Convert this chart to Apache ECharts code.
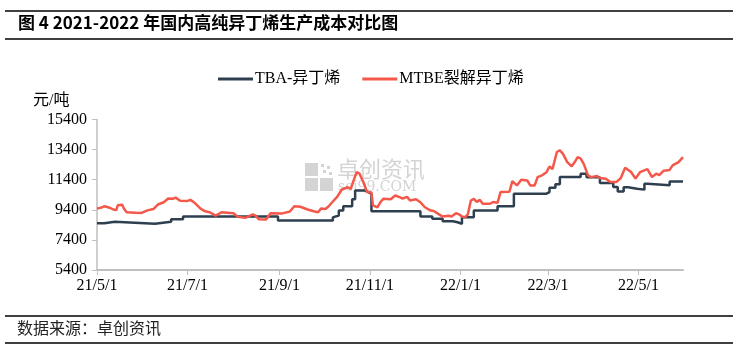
<!DOCTYPE html>
<html>
<head>
<meta charset="utf-8">
<script src="https://cdn.jsdelivr.net/npm/echarts@6/dist/echarts.min.js"></script>
<style>
  html, body { margin: 0; padding: 0; background: #fff; }
  #main { width: 739px; height: 355px; }
</style>
</head>
<body>
<div id="main"></div>
<script>
// 图例名称
const seriesNames = ['TBA-异丁烯', 'MTBE裂解异丁烯'];

// TBA-异丁烯：阶梯变动点（日期，元/吨）
const tbaDates = ['2021-05-01', '2021-05-06', '2021-05-13', '2021-06-09', '2021-06-20', '2021-06-28',
  '2021-08-31', '2021-10-07', '2021-10-08', '2021-10-11', '2021-10-14', '2021-10-20', '2021-10-22',
  '2021-10-28', '2021-10-31', '2021-11-02', '2021-12-05', '2021-12-13', '2021-12-20', '2021-12-27',
  '2021-12-30', '2022-01-02', '2022-01-10', '2022-01-26', '2022-02-06', '2022-02-28', '2022-03-02',
  '2022-03-06', '2022-03-09', '2022-03-23', '2022-03-27', '2022-04-05', '2022-04-14', '2022-04-17',
  '2022-04-21', '2022-04-24', '2022-04-30', '2022-05-05', '2022-05-07', '2022-05-22', '2022-05-31'];
const tbaValues = [8510, 8610, 8480, 8610, 8770, 8950,
  8690, 8900, 9020, 9360, 9630, 10100, 10690,
  10570, 10450, 9310, 8950, 8800, 8640, 8570,
  8470, 8900, 9350, 9640, 10470, 10575, 10870,
  11090, 11575, 11800, 11570, 11180, 10910, 10620,
  10900, 10800, 10740, 11130, 11030, 11280, 11280];

// MTBE裂解异丁烯
const mtbeDates = ['2021-05-01', '2021-05-04', '2021-05-06', '2021-05-10', '2021-05-12', '2021-05-14',
  '2021-05-15', '2021-05-18', '2021-05-19', '2021-05-21', '2021-05-27', '2021-05-31', '2021-06-01',
  '2021-06-04', '2021-06-08', '2021-06-11', '2021-06-15', '2021-06-18', '2021-06-21', '2021-06-23',
  '2021-06-26', '2021-07-01', '2021-07-03', '2021-07-06', '2021-07-10', '2021-07-13', '2021-07-16',
  '2021-07-20', '2021-07-24', '2021-07-28', '2021-08-01', '2021-08-04', '2021-08-09', '2021-08-14',
  '2021-08-16', '2021-08-18', '2021-08-23', '2021-08-26', '2021-09-03', '2021-09-08', '2021-09-11',
  '2021-09-15', '2021-09-20', '2021-09-24', '2021-09-27', '2021-09-29', '2021-10-02', '2021-10-04',
  '2021-10-07', '2021-10-10', '2021-10-13', '2021-10-17', '2021-10-19', '2021-10-21', '2021-10-23',
  '2021-10-25', '2021-10-28', '2021-10-30', '2021-10-31', '2021-11-02', '2021-11-03', '2021-11-06',
  '2021-11-08', '2021-11-10', '2021-11-15', '2021-11-18', '2021-11-21', '2021-11-23', '2021-11-26',
  '2021-11-28', '2021-12-02', '2021-12-05', '2021-12-08', '2021-12-12', '2021-12-14', '2021-12-17',
  '2021-12-20', '2021-12-24', '2021-12-26', '2021-12-29', '2021-12-31', '2022-01-02', '2022-01-04',
  '2022-01-06', '2022-01-08', '2022-01-10', '2022-01-12', '2022-01-14', '2022-01-16', '2022-01-21',
  '2022-01-23', '2022-01-26', '2022-01-28', '2022-02-03', '2022-02-05', '2022-02-08', '2022-02-11',
  '2022-02-15', '2022-02-17', '2022-02-20', '2022-02-22', '2022-02-25', '2022-02-28', '2022-03-02',
  '2022-03-04', '2022-03-07', '2022-03-09', '2022-03-11', '2022-03-14', '2022-03-17', '2022-03-19',
  '2022-03-21', '2022-03-23', '2022-03-25', '2022-03-28', '2022-03-30', '2022-04-03', '2022-04-05',
  '2022-04-09', '2022-04-12', '2022-04-16', '2022-04-19', '2022-04-22', '2022-04-26', '2022-04-29',
  '2022-05-02', '2022-05-07', '2022-05-10', '2022-05-13', '2022-05-15', '2022-05-18', '2022-05-22',
  '2022-05-24', '2022-05-28', '2022-05-31'];
const mtbeValues = [9480, 9550, 9640, 9520, 9420, 9380,
  9700, 9730, 9500, 9240, 9200, 9190, 9110,
  9360, 9450, 9750, 9900, 10150, 10130, 10210,
  10000, 9990, 10060, 9850, 9460, 9300, 9240,
  9010, 9240, 9210, 9170, 8930, 8870, 9090,
  9000, 8780, 8760, 9170, 9160, 9290, 9640,
  9600, 9420, 9300, 9240, 9480, 9450, 9620,
  9950, 10280, 10750, 10900, 10780, 11350, 11900,
  11800, 11130, 10580, 10450, 10550, 9690, 9570,
  9900, 10130, 10100, 10350, 10240, 10150, 10260,
  10020, 10100, 9900, 9570, 9350, 9320, 9130,
  8950, 9000, 8950, 9170, 9100, 8950, 8900,
  9100, 10020, 10130, 9920, 10060, 9800, 9800,
  9920, 9870, 10580, 10600, 11300, 11020, 11400,
  11350, 11020, 11020, 11570, 11690, 11900, 12280,
  12100, 13240, 13350, 13130, 12570, 12290, 12570,
  12900, 12800, 12470, 11690, 11570, 11650, 11510,
  11470, 11240, 11240, 11500, 12200, 11910, 11470,
  11900, 12100, 11580, 11800, 11700, 12000, 12050,
  12350, 12570, 12900];

// 坐标刻度
const xTickDates = ['2021-05-01', '2021-07-01', '2021-09-01', '2021-11-01', '2022-01-01', '2022-03-01', '2022-05-01'];
const yTicks = [5400, 7400, 9400, 11400, 13400, 15400];

const toTs = s => {
  const p = s.split('-').map(Number);
  return new Date(p[0], p[1] - 1, p[2]).getTime();
};
const zip = (ds, vs) => ds.map((d, i) => [toTs(d), vs[i]]);

const serif = 'Liberation Serif, Noto Sans CJK SC';
const cjk = 'Noto Sans CJK SC';

let myChart = echarts.init(document.getElementById('main'));

let option = {
  animation: false,
  color: ['#2E3F50', '#F4584A'],
  grid: { left: 97, right: 56, top: 119.5, bottom: 85, containLabel: false },
  legend: {
    data: seriesNames,
    left: 213,
    top: 66,
    icon: 'rect',
    itemWidth: 35,
    itemHeight: 3,
    itemGap: 22,
    textStyle: { fontFamily: serif, fontSize: 16, color: '#000', padding: [0, 0, 0, -3] }
  },
  xAxis: {
    type: 'value',
    min: toTs('2021-05-01'),
    max: toTs('2022-05-31'),
    splitLine: { show: false },
    axisLine: { lineStyle: { color: '#BFBFBF', width: 2 } },
    axisTick: { show: true, length: 5, lineStyle: { color: '#BFBFBF' }, customValues: xTickDates.map(toTs) },
    axisLabel: {
      customValues: xTickDates.map(toTs),
      margin: 8,
      fontFamily: serif,
      fontSize: 16,
      color: '#000',
      formatter: v => {
        const d = new Date(v);
        return (d.getFullYear() % 100) + '/' + (d.getMonth() + 1) + '/' + d.getDate();
      }
    }
  },
  yAxis: {
    type: 'value',
    min: 5400,
    max: 15400,
    splitLine: { show: false },
    axisLine: { show: true, lineStyle: { color: '#BFBFBF', width: 1.5 } },
    axisTick: { show: true, length: 5, lineStyle: { color: '#BFBFBF' }, customValues: yTicks },
    axisLabel: { customValues: yTicks, margin: 10, fontFamily: serif, fontSize: 16, color: '#000', formatter: v => String(v) }
  },
  graphic: [
    // 标题与来源的分隔线
    { type: 'line', shape: { x1: 5, y1: 11, x2: 733, y2: 11 }, style: { stroke: '#000', lineWidth: 1.5 } },
    { type: 'line', shape: { x1: 5, y1: 39, x2: 733, y2: 39 }, style: { stroke: '#000', lineWidth: 1.5 } },
    { type: 'line', shape: { x1: 5, y1: 316, x2: 733, y2: 316 }, style: { stroke: '#000', lineWidth: 1.5 } },
    { type: 'line', shape: { x1: 5, y1: 343, x2: 733, y2: 343 }, style: { stroke: '#000', lineWidth: 1.5 } },
    { type: 'text', left: 18, top: 14, style: { text: '图 4 2021-2022 年国内高纯异丁烯生产成本对比图', font: 'bold 17px ' + cjk, fill: '#000' } },
    { type: 'text', left: 17, top: 320, style: { text: '数据来源：卓创资讯', font: '16px ' + cjk, fill: '#222' } },
    { type: 'text', left: 33, top: 93, style: { text: '元/吨', font: '16px ' + serif, fill: '#000' } },
    // 水印
    { type: 'group', z: -10, children: [
      { type: 'rect', shape: { x: 305, y: 163, width: 13, height: 13 }, style: { fill: '#D4D4D4' } },
      { type: 'rect', shape: { x: 305, y: 178, width: 13, height: 13 }, style: { fill: '#D4D4D4' } },
      { type: 'rect', shape: { x: 320, y: 178, width: 13, height: 13 }, style: { fill: '#D4D4D4' } },
      { type: 'rect', shape: { x: 321, y: 164, width: 3, height: 3 }, style: { fill: '#D4D4D4' } },
      { type: 'rect', shape: { x: 327, y: 166, width: 3, height: 3 }, style: { fill: '#D4D4D4' } },
      { type: 'rect', shape: { x: 323, y: 170, width: 3, height: 3 }, style: { fill: '#D4D4D4' } },
      { type: 'rect', shape: { x: 329, y: 172, width: 3, height: 3 }, style: { fill: '#D4D4D4' } },
      { type: 'text', style: { x: 337, y: 158, text: '卓创资讯', font: '22px ' + cjk, fill: '#D4D4D4' } },
      { type: 'text', style: { x: 338, y: 180, text: 'sci99.COM', font: '14px DejaVu Serif', fill: '#D4D4D4' } }
    ] }
  ],
  series: [
    {
      name: seriesNames[0],
      type: 'line',
      step: 'end',
      symbol: 'none',
      lineStyle: { width: 2.5 },
      data: zip(tbaDates, tbaValues)
    },
    {
      name: seriesNames[1],
      type: 'line',
      symbol: 'none',
      lineStyle: { width: 2.5 },
      data: zip(mtbeDates, mtbeValues)
    }
  ]
};

myChart.setOption(option);
</script>
</body>
</html>
